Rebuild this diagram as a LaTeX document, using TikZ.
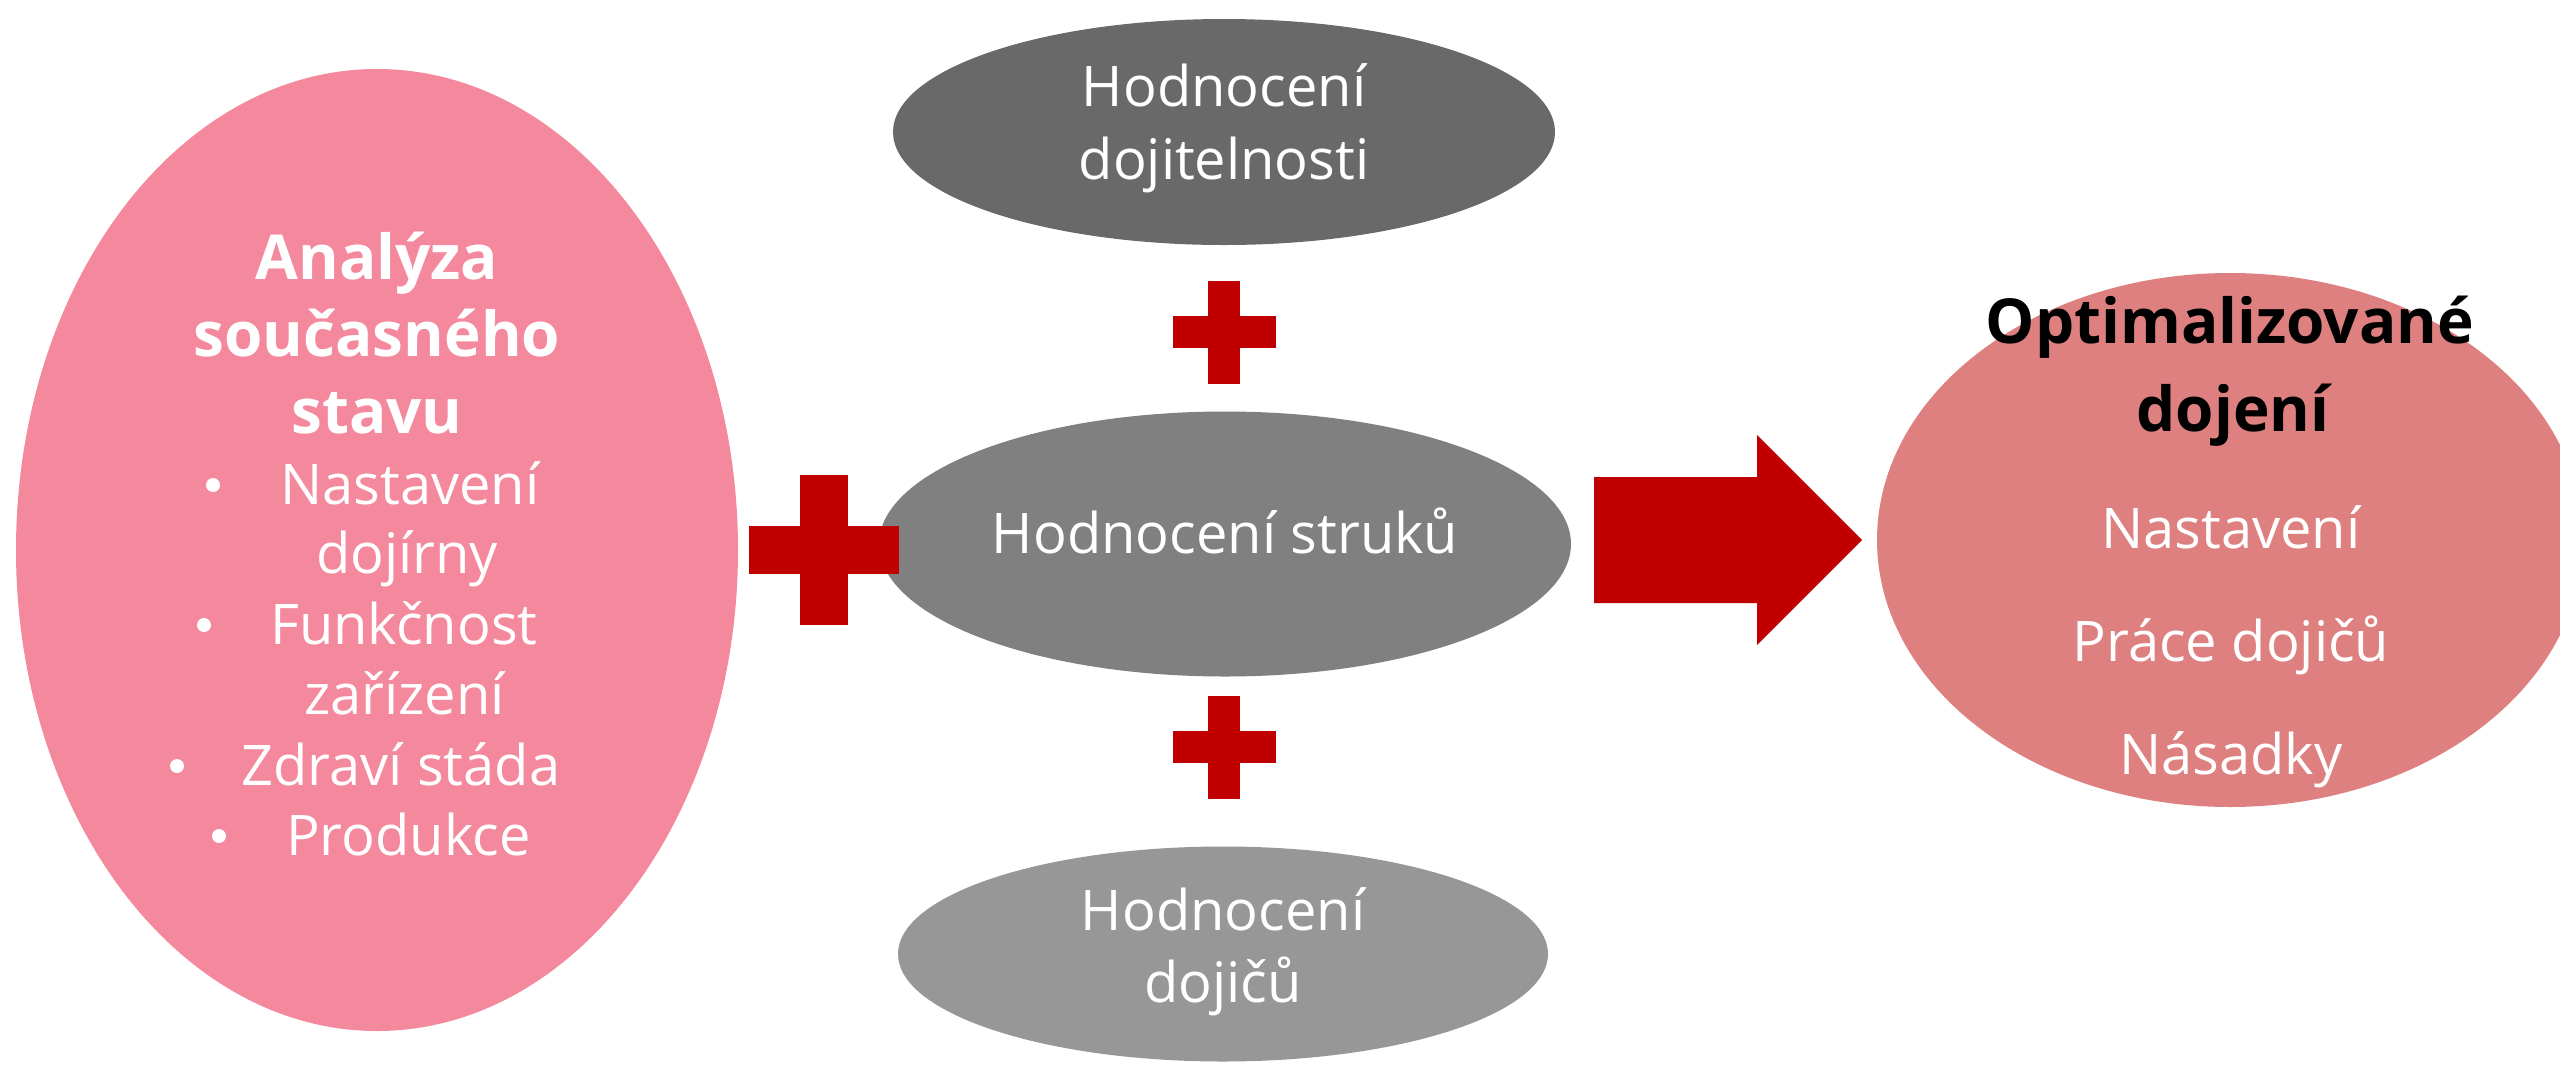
\documentclass[tikz,border=0pt]{standalone}
\usepackage{fontspec}
\setmainfont{Open Sans}
\usetikzlibrary{shapes.geometric}
\definecolor{pinkL}{RGB}{244,137,157}
\definecolor{pinkR}{RGB}{222,128,128}
\definecolor{grayA}{RGB}{105,105,105}
\definecolor{grayB}{RGB}{128,128,128}
\definecolor{grayC}{RGB}{151,151,151}
\definecolor{redc}{RGB}{192,0,0}
\newcommand\txtsz{\fontsize{56}{67}\selectfont}
\newcommand\boldsz{\fontsize{62}{74}\selectfont\bfseries}
\tikzset{
  ell/.style={ellipse, draw=none, inner sep=0pt},
  txt/.style={text=white, inner sep=0pt, font=\txtsz},
  btxt/.style={text=white, inner sep=0pt, font=\boldsz},
  bul/.style={circle, fill=white, inner sep=0pt, minimum size=14pt},
  pics/plusmark/.style args={#1/#2}{code={
    \fill[redc] (-#1,-#2) rectangle (#1,#2);
    \fill[redc] (-#2,-#1) rectangle (#2,#1);}}
}
\begin{document}
\begin{tikzpicture}[x=1pt,y=-1pt]
\useasboundingbox (0,0) rectangle (2560,1069);
\clip (0,0) rectangle (2560,1069);
% left ellipse
\node[ell, fill=pinkL, minimum width=722pt, minimum height=962pt] (ana) at (377,550) {};
\node[btxt, anchor=base] (a1) at (377,279) {Analýza};
\node[btxt, anchor=base] (a2) at (377,356) {současného};
\node[btxt, anchor=base] (a3) at (377,433) {stavu};
\node[bul] (b1) at (213,485) {};
\node[txt, anchor=base west] (l1) at (280,504) {Nastavení};
\node[txt, anchor=base west] (l2) at (316,573) {dojírny};
\node[bul] (b2) at (204,625) {};
\node[txt, anchor=base west] (l3) at (270,644) {Funkčnost};
\node[txt, anchor=base west] (l4) at (304,714) {zařízení};
\node[bul] (b3) at (177,766) {};
\node[txt, anchor=base west] (l5) at (241,785) {Zdraví stáda};
\node[bul] (b4) at (219,836) {};
\node[txt, anchor=base west] (l6) at (286,855) {Produkce};
% gray ellipses
\node[ell, fill=grayA, minimum width=662pt, minimum height=226pt] (top) at (1224,132) {};
\node[txt, anchor=base] (t1) at (1224,106) {Hodnocení};
\node[txt, anchor=base] (t2) at (1224,179) {dojitelnosti};
\node[ell, fill=grayB, minimum width=692pt, minimum height=265pt] (mid) at (1225,544) {};
\node[txt, anchor=base] (m1) at (1225,553) {Hodnocení struků};
\node[ell, fill=grayC, minimum width=650pt, minimum height=215pt] (bot) at (1223,954) {};
\node[txt, anchor=base] (d1) at (1223,930) {Hodnocení};
\node[txt, anchor=base] (d2) at (1223,1002) {dojičů};
% plus signs
\pic at (1224,332) {plusmark=51.5/16};
\pic at (1224,747) {plusmark=51.5/16};
\pic at (824,550) {plusmark=75/24};
% big arrow
\fill[redc] (1594,477) -- (1757,477) -- (1757,435) -- (1862,540) -- (1757,645) -- (1757,603) -- (1594,603) -- cycle;
% right ellipse
\node[ell, fill=pinkR, minimum width=706pt, minimum height=534pt] (opt) at (2230,540) {};
\node[text=black, inner sep=0pt, font=\boldsz, anchor=base] (o1) at (2230,343) {Optimalizované};
\node[text=black, inner sep=0pt, font=\boldsz, anchor=base] (o2) at (2233,431) {dojení};
\node[txt, anchor=base] (r1) at (2231,548) {Nastavení};
\node[txt, anchor=base] (r2) at (2231,661) {Práce dojičů};
\node[txt, anchor=base] (r3) at (2231,774) {Násadky};
\end{tikzpicture}
\end{document}
